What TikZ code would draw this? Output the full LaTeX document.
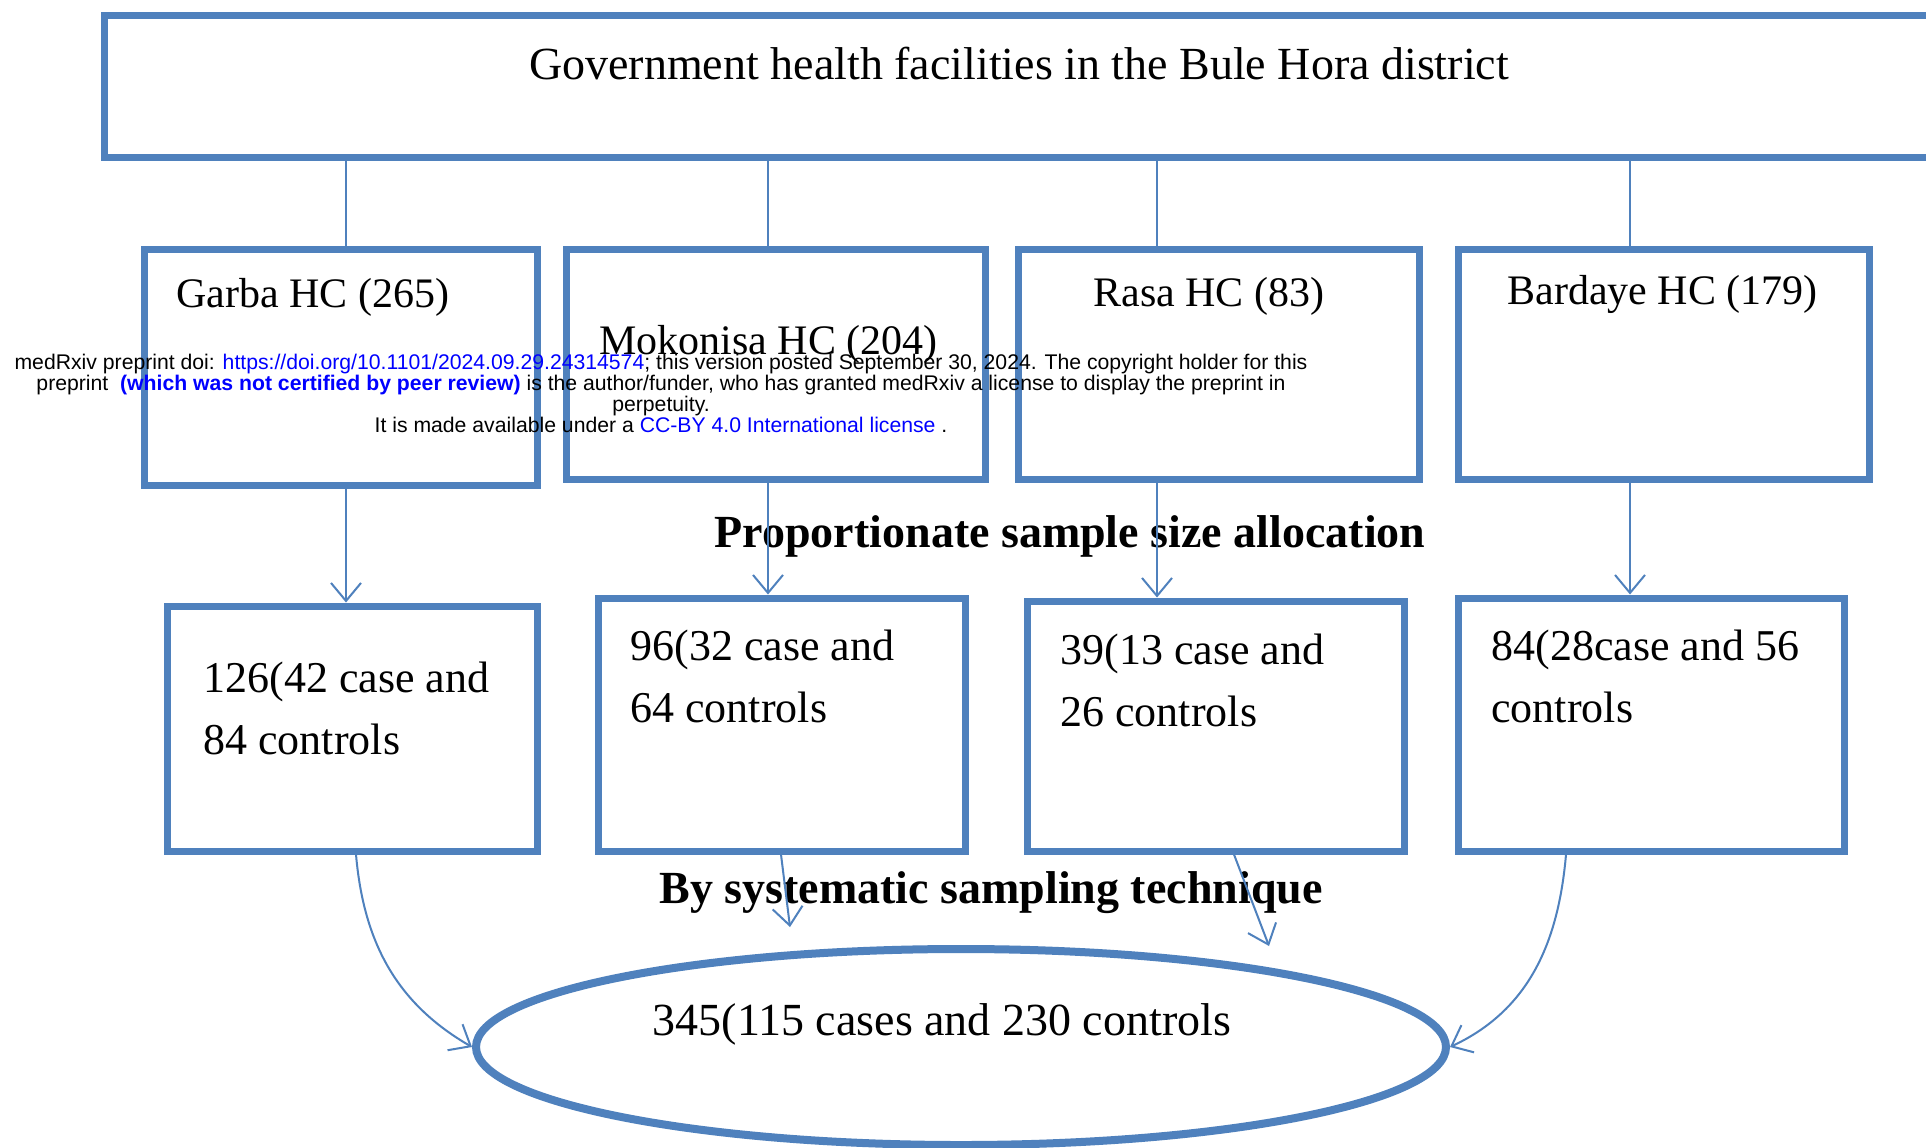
\documentclass[tikz,border=0pt]{standalone}
\usepackage{fontspec}
\setmainfont{Liberation Serif}
\newfontfamily\wmfont{Liberation Sans}
\usetikzlibrary{positioning, arrows.meta, shapes.geometric, fit}
\definecolor{boxblue}{RGB}{79,129,189}
\definecolor{linkblue}{RGB}{0,0,255}
\tikzset{>={Straight Barb[length=9pt,width=15pt,line width=1pt]},
  hcbox/.style={rectangle, draw=boxblue, line width=3.5pt, inner sep=0pt},
  link/.style={draw=boxblue, line width=1pt},
  hctext/.style={anchor=west, inner sep=0pt, align=left, font=\fontsize{21}{31}\selectfont},
  nbtext/.style={anchor=west, inner sep=0pt, align=left, font=\fontsize{22}{31}\selectfont},
  steplabel/.style={inner sep=0pt, font=\fontsize{23}{27}\selectfont\bfseries},
  wmark/.style={inner sep=0pt, align=center, font=\wmfont\fontsize{10.6}{10.5}\selectfont}}

\begin{document}
\begin{tikzpicture}[x=0.5pt, y=-0.5pt]
    \useasboundingbox[fill=white] (0,0) rectangle (1926,1147);
    \node[hcbox, fit={(104,15) (1970,157)}] (district) {};
    \node[inner sep=0pt, font=\fontsize{23}{27}\selectfont] (districtT) at (1019,64) {Government health facilities in the Bule Hora district};

    \node[hcbox, fit={(144,249) (537,485)}] (garba) {};
    \node[hcbox, fit={(566,249) (985,479)}] (mokonisa) {};
    \node[hcbox, fit={(1018,249) (1419,479)}] (rasa) {};
    \node[hcbox, fit={(1458,249) (1869,479)}] (bardaye) {};
    \node[hctext] (garbaT) at (176,297) {Garba HC (265)};
    \node[hctext] (mokonisaT) at (599,344) {Mokonisa HC (204)};
    \node[hctext] (rasaT) at (1093,296) {Rasa HC (83)};
    \node[hctext] (bardayeT) at (1507,294) {Bardaye HC (179)};

    \node[hcbox, fit={(167,606) (537,851)}] (garbaN) {};
    \node[hcbox, fit={(598,598) (965,851)}] (mokonisaN) {};
    \node[hcbox, fit={(1027,601) (1404,851)}] (rasaN) {};
    \node[hcbox, fit={(1458,598) (1844,851)}] (bardayeN) {};
    \node[nbtext] (garbaNT) at (203,708) {126(42 case and\\84 controls};
    \node[nbtext] (mokonisaNT) at (630,676) {96(32 case and\\64 controls};
    \node[nbtext] (rasaNT) at (1060,680) {39(13 case and\\26 controls};
    \node[nbtext] (bardayeNT) at (1491,676) {84(28case and 56\\controls};

    \node[steplabel] (allocation) at (1070,536) {Proportionate sample size allocation};
    \node[steplabel] (systematic) at (991,893) {By systematic sampling technique};

    \node[ellipse, draw=boxblue, line width=4pt, minimum width=485pt, minimum height=98pt] (total) at (961,1047) {};
    \node[inner sep=0pt, font=\fontsize{23}{27}\selectfont] (totalT) at (942,1024) {345(115 cases and 230 controls};
    \coordinate (mokonisaE) at (790,927);
    \coordinate (rasaE) at (1269,946);

    \draw[link] (district.south -| 346,0) -- (garba.north -| 346,0)
        (district.south -| 768,0) -- (mokonisa.north -| 768,0)
        (district.south -| 1157,0) -- (rasa.north -| 1157,0)
        (district.south -| 1630,0) -- (bardaye.north -| 1630,0);
    \draw[link, ->] (garba.south -| 346,0) -- (garbaN.north -| 346,0);
    \draw[link, ->] (mokonisa.south -| 768,0) -- (mokonisaN.north -| 768,0);
    \draw[link, ->] (rasa.south -| 1157,0) -- (rasaN.north -| 1157,0);
    \draw[link, ->] (bardaye.south -| 1630,0) -- (bardayeN.north -| 1630,0);
    \draw[link, ->] (garbaN.south -| 356,0) to[out=-85, in=150] (total.west);
    \draw[link, ->] (mokonisaN.south -| 781,0) -- (mokonisaE);
    \draw[link, ->] (rasaN.south -| 1234,0) -- (rasaE);
    \draw[link, ->] (bardayeN.south -| 1566,0) to[out=-95, in=25] (total.east);

    \node[wmark] (preprint) at (661,393) {medRxiv preprint doi: \textcolor{linkblue}{https://doi.org/10.1101/2024.09.29.24314574}; this version posted September 30, 2024. The copyright holder for this\\
        preprint \ \textcolor{linkblue}{\bfseries(which was not certified by peer review)} is the author/funder, who has granted medRxiv a license to display the preprint in\\
        perpetuity.\\
        It is made available under a \textcolor{linkblue}{CC-BY 4.0 International license} .};
\end{tikzpicture}
\end{document}
